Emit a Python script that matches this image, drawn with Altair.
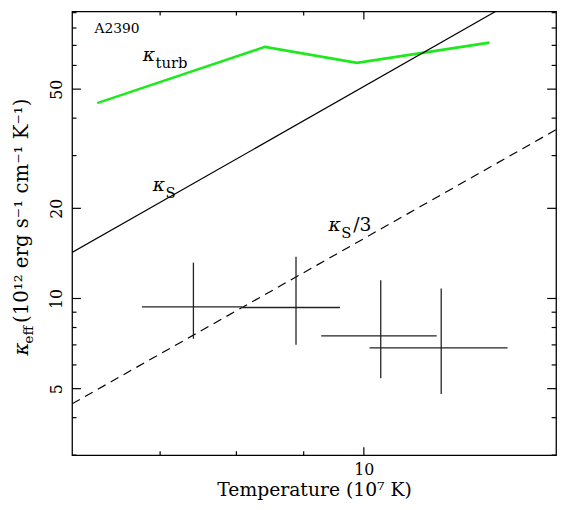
import altair as alt
import pandas as pd

# ---- data ----
T_turb = [6.27, 8.41, 9.88, 12.46]
k_turb = [44.9, 69.2, 61.2, 71.5]

T_spitzer = [6.0, 12.82]
k_spitzer = [14.24, 95.0]

T_third = [6.0, 14.0]
k_third = [4.45, 36.6]

T_obs = [7.42, 8.88, 10.30, 11.45]
T_lo = [6.78, 8.08, 9.28, 10.10]
T_hi = [8.08, 9.59, 11.36, 12.86]
k_obs = [9.37, 9.33, 7.50, 6.84]
k_lo = [7.34, 7.01, 5.42, 4.80]
k_hi = [13.17, 13.79, 11.50, 10.79]

x_major = [10]
x_minor = [7, 8, 9]
y_major = [5, 10, 20, 50]
y_minor = [3, 4, 6, 7, 8, 9, 30, 40, 60, 70, 80, 90]

x_domain = [6, 14]
y_domain = [3, 90.8]

W, H = 491, 450
FONT = "DejaVu Serif"

xs = alt.Scale(type="log", domain=x_domain, nice=False, zero=False)
ys = alt.Scale(type="log", domain=y_domain, nice=False, zero=False)


def xenc(field="T"):
    return alt.X(f"{field}:Q", scale=xs, axis=None)


def yenc(field="k"):
    return alt.Y(f"{field}:Q", scale=ys, axis=None)


one = pd.DataFrame({"a": [0]})

# green kappa_turb line carries the axes
turb = alt.Chart(pd.DataFrame({"T": T_turb, "k": k_turb})).mark_line(
    color="#1ee81e", strokeWidth=2.6, clip=True
).encode(
    x=alt.X("T:Q", scale=xs, axis=alt.Axis(
        values=x_major, format="d", ticks=False, domain=False, grid=False,
        labelFontSize=16, labelFont=FONT, labelPadding=7, labelFlush=False,
        labelColor="black",
        title="Temperature (10⁷ K)", titleFont=FONT, titleFontSize=19,
        titleFontWeight="normal", titlePadding=3, titleColor="black")),
    y=alt.Y("k:Q", scale=ys, axis=alt.Axis(
        values=y_major, format="d", ticks=False, domain=False, grid=False,
        labelAngle=270, labelAlign="center", labelBaseline="alphabetic",
        labelPadding=11, labelFontSize=16, labelFont=FONT, labelColor="black",
        labelFlush=False, title=None)),
    order="T:Q",
)

spitzer = alt.Chart(pd.DataFrame({"T": T_spitzer, "k": k_spitzer})).mark_line(
    color="black", strokeWidth=1.2, clip=True
).encode(x=xenc(), y=yenc())

third = alt.Chart(pd.DataFrame({"T": T_third, "k": k_third})).mark_line(
    color="black", strokeWidth=1.2, strokeDash=[9, 6], clip=True
).encode(x=xenc(), y=yenc())

obs = pd.DataFrame({"T": T_obs, "Tlo": T_lo, "Thi": T_hi,
                    "k": k_obs, "klo": k_lo, "khi": k_hi})
hbars = alt.Chart(obs).mark_rule(color="#222", strokeWidth=1.3).encode(
    x=xenc("Tlo"), x2="Thi:Q", y=yenc("k"))
vbars = alt.Chart(obs).mark_rule(color="#222", strokeWidth=1.3).encode(
    x=xenc("T"), y=yenc("klo"), y2="khi:Q")


# inward ticks on all four sides
def xticks(vals, length):
    d = pd.DataFrame({"T": vals})
    bot = alt.Chart(d).mark_rule(color="black", strokeWidth=1.2).encode(
        x=xenc(), y=alt.value(H), y2=alt.value(H - length))
    top = alt.Chart(d).mark_rule(color="black", strokeWidth=1.2).encode(
        x=xenc(), y=alt.value(0), y2=alt.value(length))
    return [bot, top]


def yticks(vals, length):
    d = pd.DataFrame({"k": vals})
    left = alt.Chart(d).mark_rule(color="black", strokeWidth=1.2).encode(
        y=yenc(), x=alt.value(0), x2=alt.value(length))
    right = alt.Chart(d).mark_rule(color="black", strokeWidth=1.2).encode(
        y=yenc(), x=alt.value(W), x2=alt.value(W - length))
    return [left, right]


ticks = xticks(x_major, 8) + xticks(x_minor, 4) + yticks(y_major, 9) + yticks(y_minor, 4.5)

# annotations
ann_main = pd.DataFrame({"T": [6.24], "k": [76.8], "text": ["A2390"]})
a2390 = alt.Chart(ann_main).mark_text(
    align="left", baseline="alphabetic", font=FONT, fontSize=14, color="black"
).encode(x=xenc(), y=yenc(), text="text:N")

kap = pd.DataFrame({"T": [6.79, 6.91, 9.40], "k": [62.1, 22.9, 16.75],
                    "sub": ["turb", "S", "S"]})
kappa = alt.Chart(kap).mark_text(
    align="left", baseline="alphabetic", font=FONT, fontSize=19,
    fontStyle="italic", color="black", text="κ"
).encode(x=xenc(), y=yenc())
kappa_sub = alt.Chart(kap).mark_text(
    align="left", baseline="alphabetic", font=FONT, fontSize=15,
    color="black", dx=13, dy=7
).encode(x=xenc(), y=yenc(), text="sub:N")
over3 = alt.Chart(kap.iloc[[2]]).mark_text(
    align="left", baseline="alphabetic", font=FONT, fontSize=19,
    color="black", dx=25, text="/3"
).encode(x=xenc(), y=yenc())

# y-axis title pieces (rotated)
yt_k = alt.Chart(one).mark_text(
    angle=270, align="left", baseline="alphabetic", font=FONT, fontSize=20,
    fontStyle="italic", color="black", text="κ"
).encode(x=alt.value(-45), y=alt.value(349))
yt_eff = alt.Chart(one).mark_text(
    angle=270, align="left", baseline="alphabetic", font=FONT, fontSize=14,
    color="black", text="eff"
).encode(x=alt.value(-40), y=alt.value(337))
yt_main = alt.Chart(one).mark_text(
    angle=270, align="left", baseline="alphabetic", font=FONT, fontSize=20,
    color="black", text="(10¹² erg s⁻¹ cm⁻¹ K⁻¹)"
).encode(x=alt.value(-45), y=alt.value(316))

chart = alt.layer(
    turb, spitzer, third, hbars, vbars, *ticks,
    a2390, kappa, kappa_sub, over3, yt_k, yt_eff, yt_main
).resolve_axis(
    x="independent", y="independent"
).properties(
    width=W, height=H,
    padding={"left": 65, "top": 0, "right": 4, "bottom": 44},
    autosize=alt.AutoSizeParams(type="none"),
    background="white",
).configure_view(stroke="black", strokeWidth=1.3)

chart.save("out.html", embed_options={"renderer": "svg", "actions": False})
